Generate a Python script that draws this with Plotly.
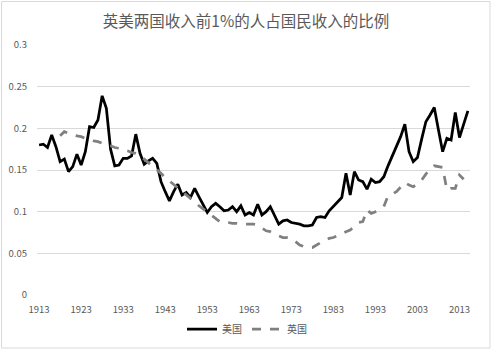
import plotly.graph_objects as go

# Share of national income held by the top 1%
us_years = list(range(1913, 2016))
us_share = [
    0.180, 0.181, 0.177, 0.192, 0.178, 0.160, 0.163, 0.148, 0.154, 0.169,  # 1913-1922
    0.156, 0.172, 0.202, 0.201, 0.210, 0.239, 0.224, 0.175, 0.155, 0.156,  # 1923-1932
    0.164, 0.164, 0.167, 0.193, 0.170, 0.157, 0.161, 0.164, 0.158, 0.136,  # 1933-1942
    0.124, 0.113, 0.124, 0.133, 0.120, 0.123, 0.117, 0.128, 0.118, 0.108,  # 1943-1952
    0.099, 0.106, 0.110, 0.106, 0.101, 0.102, 0.106, 0.100, 0.107, 0.096,  # 1953-1962
    0.099, 0.096, 0.109, 0.096, 0.100, 0.106, 0.096, 0.085, 0.089, 0.090,  # 1963-1972
    0.087, 0.086, 0.085, 0.083, 0.083, 0.084, 0.093, 0.094, 0.093, 0.101,  # 1973-1982
    0.106, 0.112, 0.117, 0.146, 0.120, 0.148, 0.138, 0.136, 0.127, 0.139,  # 1983-1992
    0.135, 0.136, 0.142, 0.155, 0.167, 0.178, 0.190, 0.205, 0.172, 0.160,  # 1993-2002
    0.165, 0.187, 0.208, 0.216, 0.225, 0.198, 0.172, 0.188, 0.186, 0.219,  # 2003-2012
    0.189, 0.205, 0.221,                                                   # 2013-2015
]

uk_years = list(range(1918, 2015))
uk_share = [
    0.191, 0.196, 0.194, 0.193, 0.191, 0.190, 0.188, 0.187, 0.185, 0.184,  # 1918-1927
    0.182, 0.180, 0.179, 0.177, 0.176, 0.174, 0.173, 0.171, 0.170, 0.168,  # 1928-1937
    0.163, 0.159, 0.155, 0.151, 0.146, 0.141, 0.137, 0.132, 0.128, 0.124,  # 1938-1947
    0.120, 0.116, 0.111, 0.107, 0.103, 0.099, 0.095, 0.091, 0.088, 0.087,  # 1948-1957
    0.087, 0.086, 0.086, 0.085, 0.085, 0.085, 0.085, 0.084, 0.080, 0.077,  # 1958-1967
    0.076, 0.073, 0.071, 0.069, 0.069, 0.068, 0.064, 0.060, 0.058, 0.057,  # 1968-1977
    0.057, 0.060, 0.064, 0.066, 0.068, 0.069, 0.071, 0.074, 0.076, 0.078,  # 1978-1987
    0.083, 0.087, 0.088, 0.102, 0.098, 0.100, 0.103, 0.106, 0.119, 0.121,  # 1988-1997
    0.124, 0.130, 0.135, 0.132, 0.130, 0.133, 0.138, 0.145, 0.151, 0.155,  # 1998-2007
    0.154, 0.153, 0.126, 0.128, 0.128, 0.144, 0.139,                      # 2008-2014
]

x_ticks = list(range(1913, 2014, 10))
y_ticks = [0, 0.05, 0.1, 0.15, 0.2, 0.25, 0.3]
y_labels = ["0", "0.05", "0.1", "0.15", "0.2", "0.25", "0.3"]

title_text = "英美两国收入前1%的人占国民收入的比例"
us_name = "美国"
uk_name = "英国"

FONT = "Noto Sans CJK SC"
TEXT = "#595959"
GRID = "#d9d9d9"

fig = go.Figure()
fig.add_trace(go.Scatter(
    x=us_years, y=us_share, mode="lines", name=us_name,
    line=dict(color="#000000", width=2.75),
))
fig.add_trace(go.Scatter(
    x=uk_years, y=uk_share, mode="lines", name=uk_name,
    line=dict(color="#808080", width=2.75, dash="dash"),
))

W, H = 492, 350
ML, MR, MT, MB = 37, 22, 45, 55
pw, ph = W - ML - MR, H - MT - MB


def px_to_paper(px, py):
    return (px - ML) / pw, (H - MB - py) / ph


# outer chart border
bx0, by0 = px_to_paper(1.5, 1.5)
bx1, by1 = px_to_paper(490, 348)
fig.add_shape(type="rect", xref="paper", yref="paper",
              x0=bx0, y0=by1, x1=bx1, y1=by0,
              line=dict(color=GRID, width=1), fillcolor="rgba(0,0,0,0)",
              layer="below")

fig.update_layout(
    width=W, height=H,
    margin=dict(l=ML, r=MR, t=MT, b=MB, autoexpand=False),
    paper_bgcolor="white", plot_bgcolor="white",
    font=dict(family=FONT, color=TEXT, size=10),
    title=dict(text=title_text, x=0.5, xref="container", xanchor="center",
               y=1 - 22 / H, yref="container", yanchor="middle",
               font=dict(family=FONT, size=15.5, color=TEXT)),
    showlegend=True,
    legend=dict(orientation="h", x=247 / W, xref="container", xanchor="center",
                y=1 - 329 / H, yref="container", yanchor="middle",
                font=dict(family=FONT, size=10, color=TEXT),
                itemwidth=30, tracegroupgap=0, bgcolor="rgba(0,0,0,0)"),
    xaxis=dict(range=[1912.5, 2015.5], tickvals=x_ticks,
               showgrid=False, zeroline=False, showline=False,
               ticks="", tickfont=dict(family=FONT, size=9.5, color=TEXT),
               ticklabelstandoff=7, automargin=False),
    yaxis=dict(range=[0, 0.3], tickvals=y_ticks, ticktext=y_labels,
               showgrid=True, gridcolor=GRID, gridwidth=1,
               zeroline=False, showline=False, ticks="",
               tickfont=dict(family=FONT, size=9.5, color=TEXT),
               ticklabelstandoff=9, automargin=False),
)

fig.write_html("out.html")
